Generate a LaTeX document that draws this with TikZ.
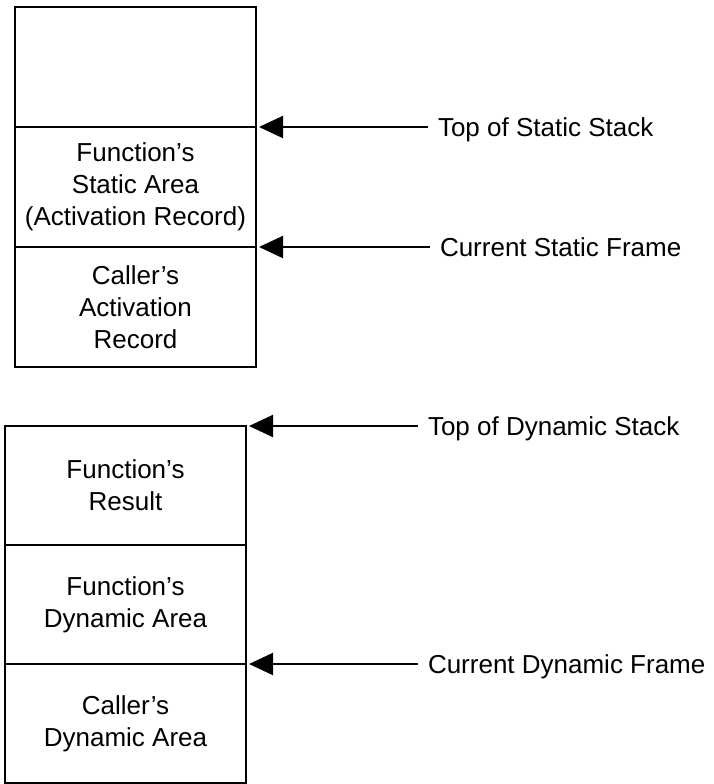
\documentclass[tikz,border=0pt]{standalone}
\usepackage{fontspec}
\setmainfont{Liberation Sans}
\usetikzlibrary{arrows.meta}

\tikzset{
  cell/.style={draw, line width=2.4pt, minimum width=241pt, minimum height=120pt, inner sep=0pt, outer sep=0pt, align=center, font=\fontsize{26}{32}\selectfont},
  tag/.style={anchor=west, inner xsep=10pt, inner ysep=0pt, outer sep=0pt, text height=19pt, text depth=0pt, font=\fontsize{26}{31}\selectfont},
  ptr/.style={-{Triangle[length=24pt,width=22pt]}, line width=2pt, shorten >=3pt},
}

\begin{document}
\begin{tikzpicture}[x=1pt,y=-1pt]
	\useasboundingbox (0,0) rectangle (713,784);

	% static stack
	\node[cell] (stop) at (135.5,67) {};
	\node[cell] (sfun) at (135.5,187) {Function's\\Static Area\\(Activation Record)};
	\node[cell] (scall) at (135.5,307) {Caller's\\Activation\\Record};

	% dynamic stack
	\node[cell, minimum height=119pt] (dres) at (125.5,485.5) {Function's\\Result};
	\node[cell, minimum height=119pt] (ddyn) at (125.5,604.5) {Function's\\Dynamic Area};
	\node[cell, minimum height=119pt] (dcall) at (125.5,723.5) {Caller's\\Dynamic Area};

	% pointers
	\node[tag] (tss) at (428,127) {Top of Static Stack};
	\node[tag] (csf) at (430,247) {Current Static Frame};
	\node[tag] (tds) at (418,426) {Top of Dynamic Stack};
	\node[tag] (cdf) at (418,664) {Current Dynamic Frame};

	\draw[ptr] (tss.west) -- (sfun.north east); % top of static
	\draw[ptr] (csf.west) -- (scall.north east); % current static
	\draw[ptr] (tds.west) -- (dres.north east); % top of dynamic
	\draw[ptr] (cdf.west) -- (dcall.north east); % current dynamic
\end{tikzpicture}
\end{document}
